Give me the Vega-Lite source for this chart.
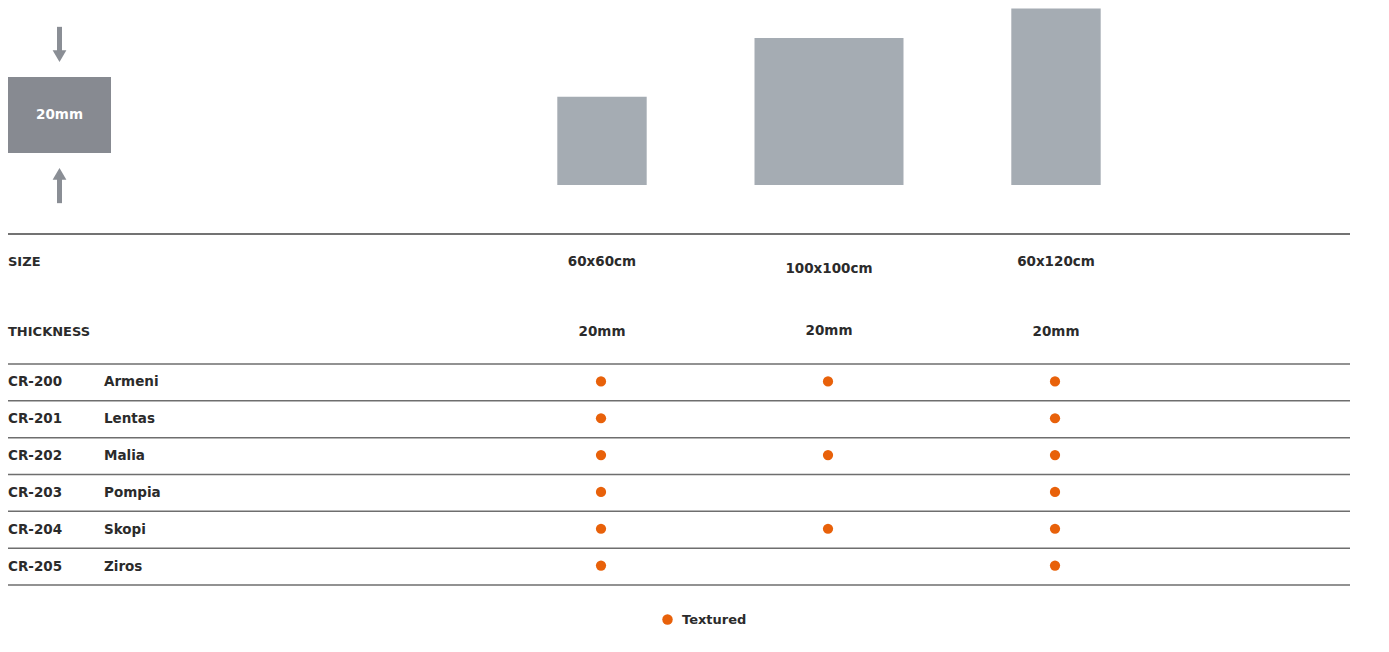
{
  "$schema": "https://vega.github.io/schema/vega-lite/v6.json",
  "width": 1389,
  "height": 652,
  "autosize": {"type": "none"},
  "padding": 0,
  "background": "#ffffff",
  "config": {
    "view": {"stroke": null},
    "font": "DejaVu Sans",
    "text": {"font": "DejaVu Sans", "fontWeight": "bold", "fontSize": 13.5, "color": "#2b2b2b"}
  },
  "datasets": {
    "tiles": [
      {"size": "60x60cm", "width_cm": 60, "height_cm": 60, "thickness": "20mm"},
      {"size": "100x100cm", "width_cm": 100, "height_cm": 100, "thickness": "20mm"},
      {"size": "60x120cm", "width_cm": 60, "height_cm": 120, "thickness": "20mm"}
    ],
    "headers": [{"attr": "SIZE"}, {"attr": "THICKNESS"}],
    "products": [
      {"code": "CR-200", "name": "Armeni"},
      {"code": "CR-201", "name": "Lentas"},
      {"code": "CR-202", "name": "Malia"},
      {"code": "CR-203", "name": "Pompia"},
      {"code": "CR-204", "name": "Skopi"},
      {"code": "CR-205", "name": "Ziros"}
    ],
    "availability": [
      {"code": "CR-200", "size": "60x60cm", "finish": "Textured"},
      {"code": "CR-200", "size": "100x100cm", "finish": "Textured"},
      {"code": "CR-200", "size": "60x120cm", "finish": "Textured"},
      {"code": "CR-201", "size": "60x60cm", "finish": "Textured"},
      {"code": "CR-201", "size": "60x120cm", "finish": "Textured"},
      {"code": "CR-202", "size": "60x60cm", "finish": "Textured"},
      {"code": "CR-202", "size": "100x100cm", "finish": "Textured"},
      {"code": "CR-202", "size": "60x120cm", "finish": "Textured"},
      {"code": "CR-203", "size": "60x60cm", "finish": "Textured"},
      {"code": "CR-203", "size": "60x120cm", "finish": "Textured"},
      {"code": "CR-204", "size": "60x60cm", "finish": "Textured"},
      {"code": "CR-204", "size": "100x100cm", "finish": "Textured"},
      {"code": "CR-204", "size": "60x120cm", "finish": "Textured"},
      {"code": "CR-205", "size": "60x60cm", "finish": "Textured"},
      {"code": "CR-205", "size": "60x120cm", "finish": "Textured"}
    ],
    "thicknessDiagram": [{"thickness_mm": 20, "label": "20mm"}]
  },
  "layer": [
    {
      "data": {"name": "tiles"},
      "mark": {"type": "bar", "color": "#a5acb3"},
      "encoding": {
        "x": {"field": "size", "type": "nominal", "axis": null, "scale": {"type": "point", "padding": 0, "domain": ["60x60cm", "100x100cm", "60x120cm"], "range": [602, 1056]}},
        "y": {"field": "height_cm", "type": "quantitative", "axis": null, "scale": {"domain": [0, 119], "range": [185, 10]}},
        "size": {"field": "width_cm", "type": "quantitative", "legend": null, "scale": {"domain": [0, 100], "range": [0, 149]}}
      }
    },
    {
      "data": {"name": "thicknessDiagram"},
      "mark": {"type": "rect", "color": "#878a91"},
      "encoding": {
        "x": {"datum": 0, "type": "quantitative", "axis": null, "scale": {"domain": [0, 1], "range": [8, 111]}},
        "x2": {"datum": 1},
        "y": {"field": "thickness_mm", "type": "quantitative", "axis": null, "scale": {"domain": [0, 20], "range": [153, 77]}},
        "y2": {"datum": 0}
      }
    },
    {
      "data": {"name": "thicknessDiagram"},
      "mark": {"type": "text", "color": "#ffffff", "fontSize": 13.5, "align": "center", "baseline": "middle"},
      "encoding": {
        "x": {"datum": 0.5, "type": "quantitative", "axis": null, "scale": {"domain": [0, 1], "range": [8, 111]}},
        "y": {"datum": 10, "type": "quantitative", "axis": null, "scale": {"domain": [0, 20], "range": [153, 77]}},
        "text": {"field": "label"}
      }
    },
    {
      "data": {"name": "thicknessDiagram"},
      "mark": {"type": "rule", "color": "#8a8e95", "strokeWidth": 5},
      "encoding": {
        "x": {"datum": 0.5, "type": "quantitative", "axis": null, "scale": {"domain": [0, 1], "range": [8, 111]}},
        "y": {"datum": 33.2, "type": "quantitative", "axis": null, "scale": {"domain": [0, 20], "range": [153, 77]}},
        "y2": {"datum": 26.6}
      }
    },
    {
      "data": {"name": "thicknessDiagram"},
      "mark": {"type": "rule", "color": "#8a8e95", "strokeWidth": 5},
      "encoding": {
        "x": {"datum": 0.5, "type": "quantitative", "axis": null, "scale": {"domain": [0, 1], "range": [8, 111]}},
        "y": {"datum": -6.6, "type": "quantitative", "axis": null, "scale": {"domain": [0, 20], "range": [153, 77]}},
        "y2": {"datum": -13.2}
      }
    },
    {
      "data": {"name": "thicknessDiagram"},
      "mark": {"type": "point", "shape": "triangle-down", "filled": true, "opacity": 1, "color": "#8a8e95", "size": 190},
      "encoding": {
        "x": {"datum": 0.5, "type": "quantitative", "axis": null, "scale": {"domain": [0, 1], "range": [8, 111]}},
        "y": {"datum": 25.5, "type": "quantitative", "axis": null, "scale": {"domain": [0, 20], "range": [153, 77]}}
      }
    },
    {
      "data": {"name": "thicknessDiagram"},
      "mark": {"type": "point", "shape": "triangle-up", "filled": true, "opacity": 1, "color": "#8a8e95", "size": 190},
      "encoding": {
        "x": {"datum": 0.5, "type": "quantitative", "axis": null, "scale": {"domain": [0, 1], "range": [8, 111]}},
        "y": {"datum": -5.5, "type": "quantitative", "axis": null, "scale": {"domain": [0, 20], "range": [153, 77]}}
      }
    },
    {
      "data": {"name": "headers"},
      "mark": {"type": "rule", "color": "#444444", "strokeWidth": 1.5},
      "transform": [{"filter": "datum.attr === 'SIZE'"}],
      "encoding": {
        "x": {"datum": 0, "type": "quantitative", "axis": null, "scale": {"domain": [0, 1], "range": [8, 1350]}},
        "x2": {"datum": 1},
        "y": {"field": "attr", "type": "nominal", "axis": null, "scale": {"type": "point", "padding": 0, "domain": ["SIZE", "THICKNESS"], "range": [262, 332]}},
        "yOffset": {"value": -28}
      }
    },
    {
      "data": {"name": "headers"},
      "mark": {"type": "text", "align": "left", "baseline": "middle", "fontSize": 13},
      "encoding": {
        "x": {"datum": "code", "type": "nominal", "axis": null, "scale": {"type": "point", "padding": 0, "domain": ["code", "name"], "range": [8, 104]}},
        "y": {"field": "attr", "type": "nominal", "axis": null, "scale": {"type": "point", "padding": 0, "domain": ["SIZE", "THICKNESS"], "range": [262, 332]}},
        "text": {"field": "attr"}
      }
    },
    {
      "data": {"name": "tiles"},
      "transform": [{"filter": "datum.size !== '100x100cm'"}],
      "mark": {"type": "text", "align": "center", "baseline": "middle", "fontSize": 13.5},
      "encoding": {
        "x": {"field": "size", "type": "nominal", "axis": null, "scale": {"type": "point", "padding": 0, "domain": ["60x60cm", "100x100cm", "60x120cm"], "range": [602, 1056]}},
        "y": {"datum": "SIZE", "type": "nominal", "axis": null, "scale": {"type": "point", "padding": 0, "domain": ["SIZE", "THICKNESS"], "range": [262, 332]}},
        "text": {"field": "size"}
      }
    },
    {
      "data": {"name": "tiles"},
      "transform": [{"filter": "datum.size === '100x100cm'"}],
      "mark": {"type": "text", "align": "center", "baseline": "middle", "fontSize": 13.5, "dy": 6.5},
      "encoding": {
        "x": {"field": "size", "type": "nominal", "axis": null, "scale": {"type": "point", "padding": 0, "domain": ["60x60cm", "100x100cm", "60x120cm"], "range": [602, 1056]}},
        "y": {"datum": "SIZE", "type": "nominal", "axis": null, "scale": {"type": "point", "padding": 0, "domain": ["SIZE", "THICKNESS"], "range": [262, 332]}},
        "text": {"field": "size"}
      }
    },
    {
      "data": {"name": "tiles"},
      "transform": [{"filter": "datum.size !== '100x100cm'"}],
      "mark": {"type": "text", "align": "center", "baseline": "middle", "fontSize": 13.5},
      "encoding": {
        "x": {"field": "size", "type": "nominal", "axis": null, "scale": {"type": "point", "padding": 0, "domain": ["60x60cm", "100x100cm", "60x120cm"], "range": [602, 1056]}},
        "y": {"datum": "THICKNESS", "type": "nominal", "axis": null, "scale": {"type": "point", "padding": 0, "domain": ["SIZE", "THICKNESS"], "range": [262, 332]}},
        "text": {"field": "thickness"}
      }
    },
    {
      "data": {"name": "tiles"},
      "transform": [{"filter": "datum.size === '100x100cm'"}],
      "mark": {"type": "text", "align": "center", "baseline": "middle", "fontSize": 13.5, "dy": -1.5},
      "encoding": {
        "x": {"field": "size", "type": "nominal", "axis": null, "scale": {"type": "point", "padding": 0, "domain": ["60x60cm", "100x100cm", "60x120cm"], "range": [602, 1056]}},
        "y": {"datum": "THICKNESS", "type": "nominal", "axis": null, "scale": {"type": "point", "padding": 0, "domain": ["SIZE", "THICKNESS"], "range": [262, 332]}},
        "text": {"field": "thickness"}
      }
    },
    {
      "data": {"name": "products"},
      "mark": {"type": "rule", "color": "#6e6e6e", "strokeWidth": 1.5},
      "encoding": {
        "x": {"datum": 0, "type": "quantitative", "axis": null, "scale": {"domain": [0, 1], "range": [8, 1350]}},
        "x2": {"datum": 1},
        "y": {"field": "code", "type": "nominal", "bandPosition": 1, "axis": null, "scale": {"type": "band", "domain": ["CR-200", "CR-201", "CR-202", "CR-203", "CR-204", "CR-205"], "range": [364, 585], "paddingInner": 0, "paddingOuter": 0}}
      }
    },
    {
      "data": {"name": "products"},
      "transform": [{"filter": "datum.code === 'CR-200'"}],
      "mark": {"type": "rule", "color": "#6e6e6e", "strokeWidth": 1.5},
      "encoding": {
        "x": {"datum": 0, "type": "quantitative", "axis": null, "scale": {"domain": [0, 1], "range": [8, 1350]}},
        "x2": {"datum": 1},
        "y": {"field": "code", "type": "nominal", "bandPosition": 0, "axis": null, "scale": {"type": "band", "domain": ["CR-200", "CR-201", "CR-202", "CR-203", "CR-204", "CR-205"], "range": [364, 585], "paddingInner": 0, "paddingOuter": 0}}
      }
    },
    {
      "data": {"name": "products"},
      "transform": [{"fold": ["code", "name"], "as": ["col", "label"]}],
      "mark": {"type": "text", "align": "left", "baseline": "middle", "fontSize": 13.5},
      "encoding": {
        "x": {"field": "col", "type": "nominal", "axis": null, "scale": {"type": "point", "padding": 0, "domain": ["code", "name"], "range": [8, 104]}},
        "y": {"field": "code", "type": "nominal", "bandPosition": 0.5, "axis": null, "scale": {"type": "band", "domain": ["CR-200", "CR-201", "CR-202", "CR-203", "CR-204", "CR-205"], "range": [364, 585], "paddingInner": 0, "paddingOuter": 0}},
        "text": {"field": "label"}
      }
    },
    {
      "data": {"name": "availability"},
      "mark": {"type": "point", "shape": "circle", "filled": true, "opacity": 1, "size": 105},
      "encoding": {
        "x": {"field": "size", "type": "nominal", "axis": null, "scale": {"type": "point", "padding": 0, "domain": ["60x60cm", "100x100cm", "60x120cm"], "range": [601, 1055]}},
        "y": {"field": "code", "type": "nominal", "bandPosition": 0.5, "axis": null, "scale": {"type": "band", "domain": ["CR-200", "CR-201", "CR-202", "CR-203", "CR-204", "CR-205"], "range": [363, 584], "paddingInner": 0, "paddingOuter": 0}},
        "color": {
          "field": "finish", "type": "nominal",
          "scale": {"domain": ["Textured"], "range": ["#e8610a"]},
          "legend": {
            "title": null, "orient": "none", "legendX": 661, "legendY": 613, "padding": 0,
            "symbolType": "circle", "symbolSize": 110, "symbolStrokeWidth": 0, "symbolOpacity": 1,
            "labelFont": "DejaVu Sans", "labelFontWeight": "bold", "labelFontSize": 13, "labelColor": "#2b2b2b", "labelOffset": 8
          }
        }
      }
    }
  ],
  "resolve": {"scale": {"x": "independent", "y": "independent", "size": "independent", "color": "independent"}}
}
